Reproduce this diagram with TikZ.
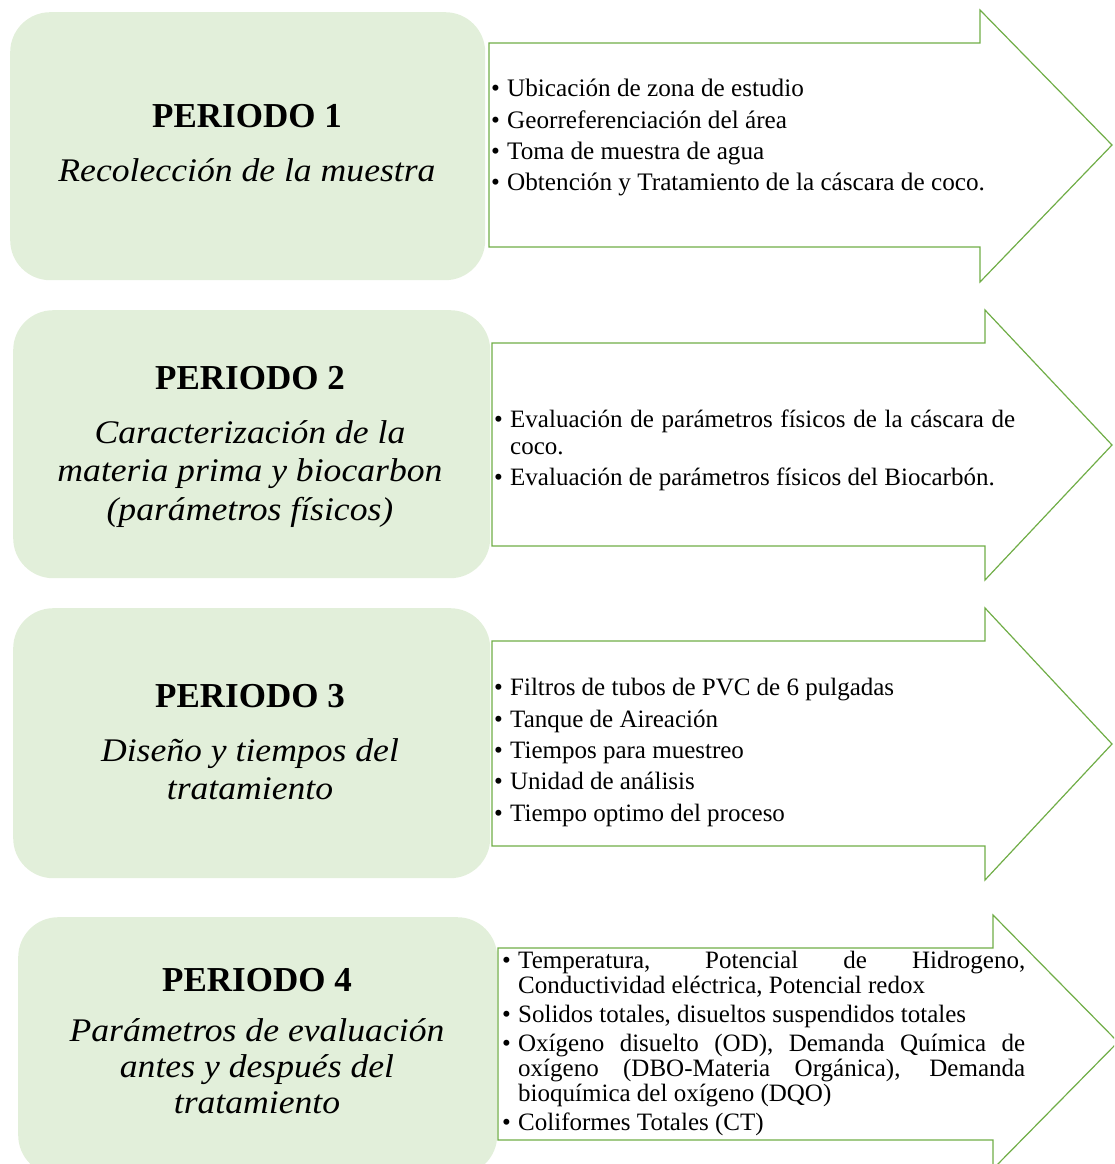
\documentclass[tikz,border=0pt]{standalone}
\usepackage{fontspec}
\setmainfont{Liberation Serif}
\newfontfamily\subfont[FakeStretch=1.08]{Liberation Serif}
\usepackage{tikz}

\definecolor{boxgreen}{HTML}{E2EFDA}
\definecolor{linegreen}{HTML}{70AD47}

\newcommand{\itm}{\par\hangindent=16pt\hangafter=1\noindent\makebox[16pt][l]{\textbullet}}

\begin{document}
\begin{tikzpicture}[x=1pt,y=-1pt,
    perbox/.style={fill=boxgreen,draw=none,rounded corners=40pt,inner sep=0pt,anchor=north west},
    tittext/.style={font=\bfseries\fontsize{35}{40}\selectfont,inner sep=0pt},
    subtext/.style={font=\subfont\itshape\fontsize{33}{38.5}\selectfont,align=center,inner sep=0pt},
    listtext/.style={align=justify,inner sep=0pt,anchor=west},
    arrowline/.style={draw=linegreen,line width=1.2pt,line join=miter}]

    \useasboundingbox (0,0) rectangle (1114,1164);
    \clip (0,0) rectangle (1114,1164);

    % periodo 1
    \node[perbox,minimum width=475pt,minimum height=268pt] (box1) at (10,12) {};
    \node[tittext] (tit1) at (247,116) {PERIODO 1};
    \node[subtext] (sub1) at (247,170) {Recolección de la muestra};

    \draw[arrowline] (489,43) -- (980,43) -- (980,10) -- (1112,145)
      -- (980,282) -- (980,247) -- (489,247) -- cycle;

    \node[listtext,text width=520pt,font=\fontsize{25.2}{31.3}\selectfont] (lst1) at (491,131)
    {\itm Ubicación de zona de estudio
     \itm Georreferenciación del área
     \itm Toma de muestra de agua
     \itm Obtención y Tratamiento de la cáscara de coco.};


    % periodo 2
    \node[perbox,minimum width=477pt,minimum height=268pt] (box2) at (13,310) {};
    \node[tittext] (tit2) at (250,378) {PERIODO 2};
    \node[subtext] (sub2) at (250,474)
    {Caracterización de la\\
      materia prima y biocarbon\\
      (parámetros físicos)};

    \draw[arrowline] (492,343) -- (985,343) -- (985,310) -- (1112,445)
      -- (985,580) -- (985,546) -- (492,546) -- cycle;

    \node[listtext,text width=521pt,font=\fontsize{25}{27}\selectfont,
      execute at begin node={\setlength{\parskip}{4pt}}] (lst2) at (494,444)
    {\itm Evaluación de parámetros físicos de la cáscara de\linebreak coco.
     \itm Evaluación de parámetros físicos del Biocarbón.};


    % periodo 3
    \node[perbox,minimum width=477pt,minimum height=270pt] (box3) at (13,608) {};
    \node[tittext] (tit3) at (250,696) {PERIODO 3};
    \node[subtext] (sub3) at (250,769)
    {Diseño y tiempos del\\
      tratamiento};

    \draw[arrowline] (492,641) -- (985,641) -- (985,608) -- (1112,744)
      -- (985,880) -- (985,846) -- (492,846) -- cycle;

    \node[listtext,text width=500pt,font=\fontsize{25}{31.3}\selectfont] (lst3) at (494,745.5)
    {\itm Filtros de tubos de PVC de 6 pulgadas
     \itm Tanque de Aireación
     \itm Tiempos para muestreo
     \itm Unidad de análisis
     \itm Tiempo optimo del proceso};


    % periodo 4
    \node[perbox,minimum width=479pt,minimum height=258pt] (box4) at (18,917) {};
    \node[tittext] (tit4) at (257,980) {PERIODO 4};
    \node[subtext,font=\subfont\itshape\fontsize{33}{36}\selectfont] (sub4) at (257,1066)
    {Parámetros de evaluación\\
      antes y después del\\
      tratamiento};

    \draw[arrowline] (498,948) -- (993,948) -- (993,915) -- (1118,1042)
      -- (993,1169) -- (993,1140) -- (498,1140) -- cycle;

    \node[listtext,text width=523pt,font=\fontsize{25}{25}\selectfont,
      execute at begin node={\setlength{\parskip}{4pt}}] (lst4) at (502,1038)
    {\itm Temperatura, Potencial de Hidrogeno,\linebreak Conductividad eléctrica, Potencial redox
     \itm Solidos totales, disueltos suspendidos totales
     \itm Oxígeno disuelto (OD), Demanda Química de\linebreak oxígeno (DBO-Materia Orgánica), Demanda\linebreak bioquímica del oxígeno (DQO)
     \itm Coliformes Totales (CT)};

\end{tikzpicture}
\end{document}
